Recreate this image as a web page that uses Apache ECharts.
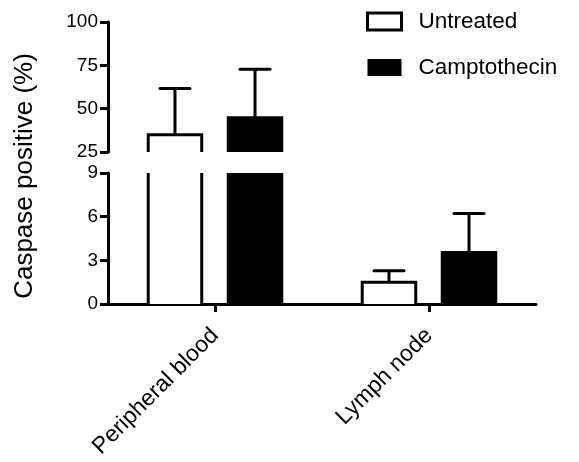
<!DOCTYPE html>
<html>
<head>
<meta charset="utf-8">
<script src="https://cdn.jsdelivr.net/npm/echarts@6/dist/echarts.min.js"></script>
<style>html,body{margin:0;padding:0;background:#fff;}#chart{width:579px;height:462px;}</style>
</head>
<body>
<div id="chart"></div>
<script>
const categories = ['Peripheral blood', 'Lymph node'];
const untreated = [35.0, 1.5];
const untreatedErr = [26.6, 0.78];
const camptothecin = [44.8, 3.54];
const camptothecinErr = [27.9, 2.68];
const topTicks = { min: 25, max: 100, interval: 25 };
const bottomTicks = { min: 0, max: 9, interval: 3 };

const FONT = 'Liberation Sans, Arial, sans-serif';
const chart = echarts.init(document.getElementById('chart'));

function makeRender(offset, filled) {
  return function (params, api) {
    const cs = params.coordSys;
    const top = cs.y, bottom = cs.y + cs.height;
    const i = api.value(0), v = api.value(1), e = api.value(2);
    const band = api.size([1, 0])[0];
    const cx = api.coord([i, v])[0] + offset * band;
    const bw = 0.25 * band;
    const L = cx - bw / 2, R = cx + bw / 2;
    const yV = api.coord([i, v])[1];
    const yB = api.coord([i, 0])[1];
    const yE = api.coord([i, v + e])[1];
    const clamp = y => Math.min(bottom, Math.max(top, y));
    const y0 = clamp(yB), y1 = clamp(yV);
    const lw = 3;
    const children = [];
    const ls = { stroke: '#000', lineWidth: lw, fill: null };
    if (y0 - y1 > 0.5) {
      if (filled) {
        children.push({ type: 'rect', shape: { x: L - lw / 2, y: y1 - (yV >= top ? lw / 2 : 0), width: bw + lw, height: y0 - y1 + (yV >= top ? lw / 2 : 0) }, style: { fill: '#000' } });
      } else {
        children.push({ type: 'rect', shape: { x: L, y: y1, width: bw, height: y0 - y1 }, style: { fill: '#fff' } });
        if (yV >= top) {
          children.push({ type: 'polyline', shape: { points: [[L, y0], [L, y1], [R, y1], [R, y0]] }, style: ls });
        } else {
          children.push({ type: 'line', shape: { x1: L, y1: y0, x2: L, y2: y1 }, style: ls });
          children.push({ type: 'line', shape: { x1: R, y1: y0, x2: R, y2: y1 }, style: ls });
        }
      }
    }
    if (yV > top && yE < bottom) {
      children.push({ type: 'line', shape: { x1: cx, y1: clamp(yV), x2: cx, y2: clamp(yE) }, style: ls });
      if (yE >= top && yE <= bottom) {
        const cap = 0.14 * band;
        children.push({ type: 'line', shape: { x1: cx - cap / 2, y1: yE, x2: cx + cap / 2, y2: yE }, style: Object.assign({}, ls, { lineCap: 'round' }) });
      }
    }
    return { type: 'group', children: children };
  };
}

function mkData(vals, errs) {
  return categories.map((c, i) => [i, vals[i], errs[i]]);
}

const series = [];
[0, 1].forEach(g => {
  series.push({
    name: 'Untreated', type: 'custom', xAxisIndex: g, yAxisIndex: g, clip: false,
    itemStyle: { color: '#fff', borderColor: '#000', borderWidth: 3 },
    renderItem: makeRender(-0.187, false), data: mkData(untreated, untreatedErr)
  });
  series.push({
    name: 'Camptothecin', type: 'custom', xAxisIndex: g, yAxisIndex: g, clip: false,
    itemStyle: { color: '#000' },
    renderItem: makeRender(0.187, true), data: mkData(camptothecin, camptothecinErr)
  });
});

const axisLineStyle = { color: '#000', width: 3 };
const yCommon = {
  type: 'value',
  axisLine: { show: true, lineStyle: axisLineStyle },
  axisTick: { show: true, length: 8, lineStyle: axisLineStyle },
  axisLabel: { color: '#000', fontSize: 19, fontFamily: FONT, margin: 10 },
  splitLine: { show: false }
};

chart.setOption({
  animation: false,
  backgroundColor: '#fff',
  grid: [
    { left: 108, right: 43, top: 22, height: 130 },
    { left: 108, right: 43, top: 173, height: 131 }
  ],
  legend: {
    orient: 'vertical', left: 366, top: 10, padding: 0,
    itemWidth: 34, itemHeight: 17, itemGap: 23, icon: 'rect',
    textStyle: { color: '#000', fontSize: 22.5, fontFamily: FONT, padding: [0, 0, 0, 12] },
    data: [
      { name: 'Untreated', itemStyle: { color: '#fff', borderColor: '#000', borderWidth: 3 } },
      { name: 'Camptothecin', itemStyle: { color: '#000', borderWidth: 0 } }
    ]
  },
  xAxis: [
    { gridIndex: 0, type: 'category', data: categories, show: false },
    {
      gridIndex: 1, type: 'category', data: categories,
      axisLine: { show: true, lineStyle: axisLineStyle },
      axisTick: { show: true, alignWithLabel: true, length: 8, lineStyle: axisLineStyle },
      axisLabel: { rotate: 45, color: '#000', fontSize: 23, fontFamily: FONT, margin: 28 }
    }
  ],
  yAxis: [
    Object.assign({ gridIndex: 0 }, yCommon, topTicks),
    Object.assign({ gridIndex: 1 }, yCommon, bottomTicks)
  ],
  graphic: [{
    type: 'text', x: 25, y: 176, rotation: Math.PI / 2,
    style: { text: 'Caspase positive (%)', fill: '#000', font: '26px ' + FONT, textAlign: 'center', textVerticalAlign: 'middle' }
  }],
  series: series
});
</script>
</body>
</html>
